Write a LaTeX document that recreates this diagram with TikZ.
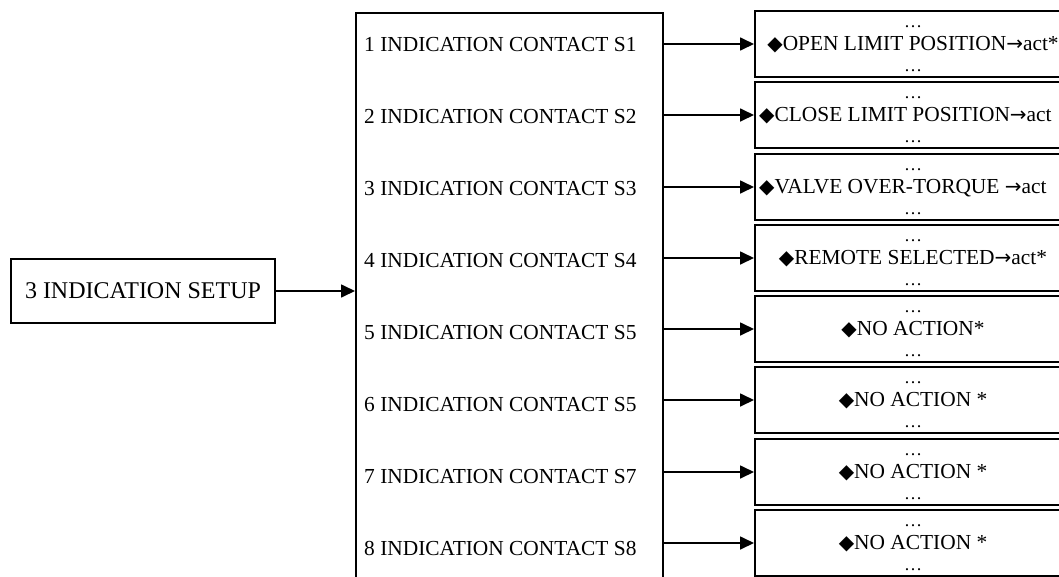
\documentclass[tikz,border=0pt]{standalone}
\usepackage{fontspec}
\setmainfont{Liberation Serif}
\newfontfamily\symfont{DejaVu Sans}
\usetikzlibrary{arrows.meta,calc}
\newcommand{\dia}{{\symfont\fontsize{20}{22}\selectfont ◆}}
\newcommand{\rarr}{{\symfont\fontsize{20}{22}\selectfont →}}
\tikzset{
  box/.style={draw, line width=1.7pt, rectangle, inner sep=0pt},
  rbox/.style={draw, line width=2pt, rectangle, inner sep=0pt, minimum width=316pt, minimum height=66pt, anchor=north west},
  arr/.style={line width=1.7pt, -{Triangle[length=14pt,width=13pt]}},
  ctext/.style={font=\fontsize{21.4}{24}\selectfont, anchor=base west, inner sep=0pt},
  rtext/.style={font=\fontsize{21.4}{24}\selectfont, anchor=base, inner sep=0pt},
  dots/.style={font=\fontsize{18}{20}\selectfont, anchor=base, inner sep=0pt},
}
\begin{document}
\begin{tikzpicture}[x=1pt,y=-1pt]
\useasboundingbox (0,0) rectangle (1059,576);
\clip (0,0) rectangle (1059,576);
% left box
\node[box, minimum width=264pt, minimum height=64pt, font=\fontsize{24}{28}\selectfont] (s) at (143,291) {3 INDICATION SETUP};
% main box
\node[box, minimum width=307pt, minimum height=600pt, anchor=north west] (m) at (355,12) {};
\draw[arr] (s.east) -- (m.west |- s.east);
% contact texts
\foreach \i/\lab in {1/S1,2/S2,3/S3,4/S4,5/S5,6/S5,7/S7,8/S8}{
  \node[ctext] (t\i) at (364,{51+72*(\i-1)}) {\i\ INDICATION CONTACT \lab};
}
% right boxes
\foreach \i/\top in {1/10,2/81,3/153,4/224,5/295,6/366,7/438,8/509}{
  \node[rbox] (r\i) at (754,\top) {};
  \node[dots] (da\i) at ($(r\i.north)+(0,17)$) {…};
  \node[dots] (db\i) at ($(r\i.north)+(0,61)$) {…};
  \draw[arr] (m.east |- r\i.west) -- (r\i.west);
}
\node[rtext] (x1) at ($(r1.north)+(0,40)$) {\dia OPEN LIMIT POSITION\rarr act*};
\node[ctext] (x2) at ($(r2.north west)+(5,40)$) {\dia CLOSE LIMIT POSITION\rarr act};
\node[ctext] (x3) at ($(r3.north west)+(5,40)$) {\dia VALVE OVER-TORQUE \rarr act};
\node[rtext] (x4) at ($(r4.north)+(0,40)$) {\dia REMOTE SELECTED\rarr act*};
\node[rtext] (x5) at ($(r5.north)+(0,40)$) {\dia NO ACTION*};
\node[rtext] (x6) at ($(r6.north)+(0,40)$) {\dia NO ACTION *};
\node[rtext] (x7) at ($(r7.north)+(0,40)$) {\dia NO ACTION *};
\node[rtext] (x8) at ($(r8.north)+(0,40)$) {\dia NO ACTION *};
\end{tikzpicture}
\end{document}
